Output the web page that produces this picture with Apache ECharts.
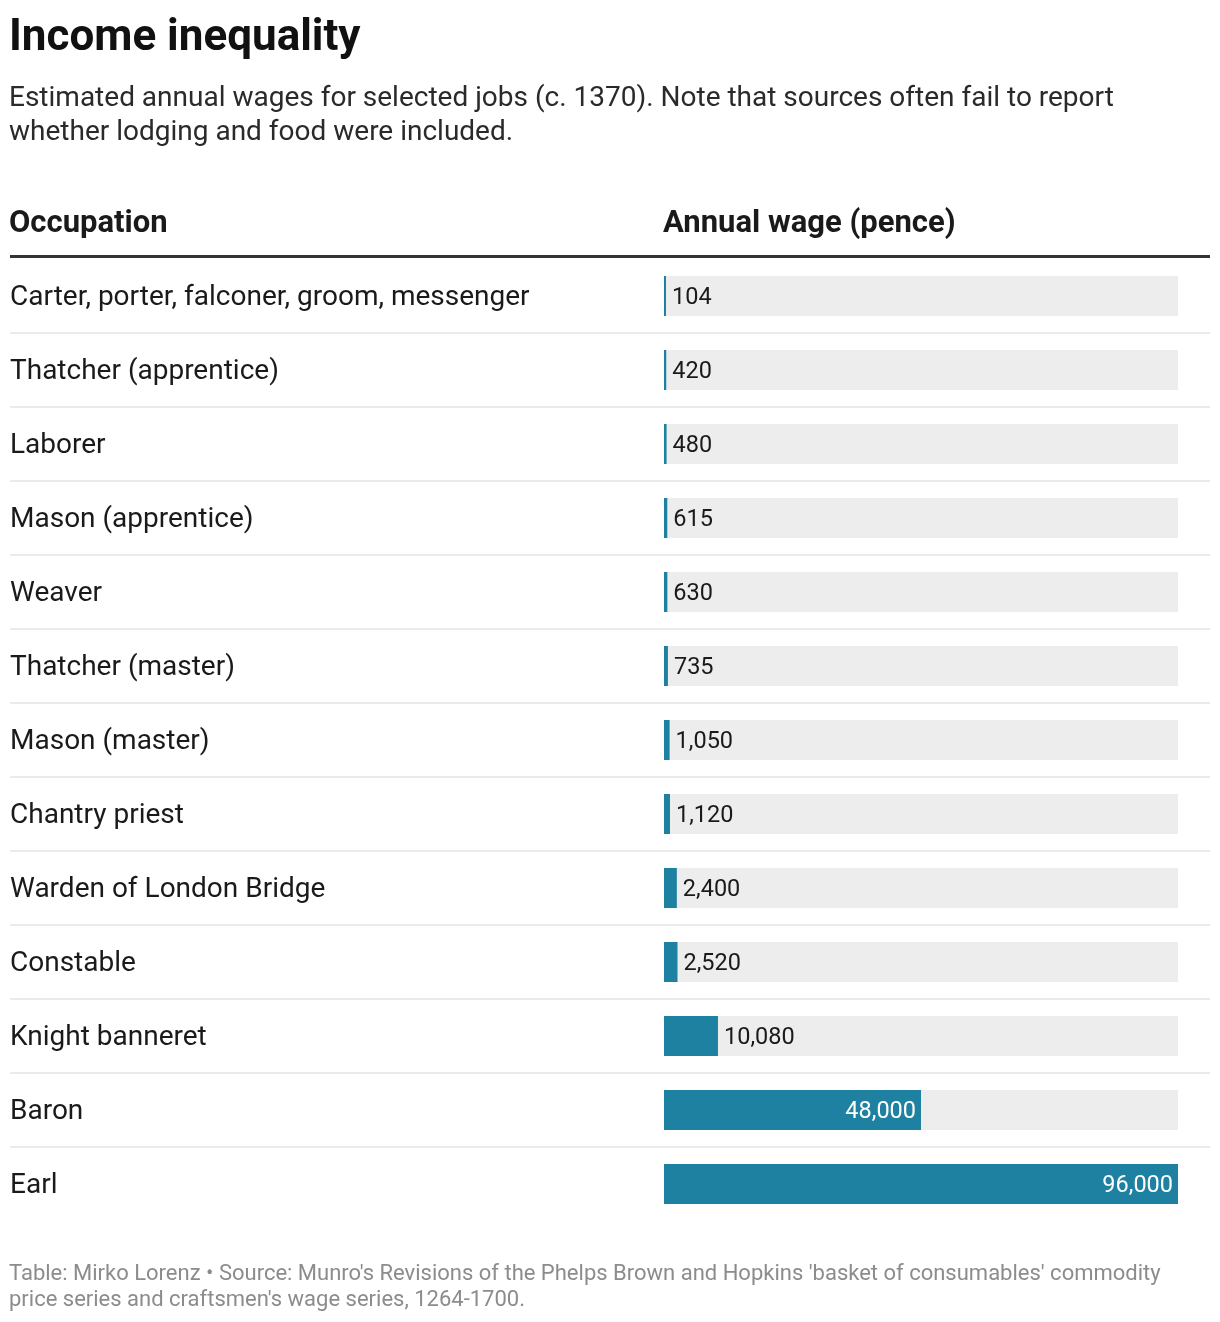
<!DOCTYPE html>
<html>
<head>
<meta charset="utf-8">
<script src="https://cdn.jsdelivr.net/npm/echarts@6/dist/echarts.min.js"></script>
<style>
html,body{margin:0;padding:0;background:#fff;}
#chart{width:1220px;height:1322px;}
</style>
</head>
<body>
<div id="chart"></div>
<script>
const titleText = "Income inequality";
const subtitleText = "Estimated annual wages for selected jobs (c. 1370). Note that sources often fail to report\nwhether lodging and food were included.";
const colHeaders = ["Occupation", "Annual wage (pence)"];
const footerText = "Table: Mirko Lorenz \u2022 Source: Munro's Revisions of the Phelps Brown and Hopkins 'basket of consumables' commodity\nprice series and craftsmen's wage series, 1264-1700.";

const occupations = [
  "Carter, porter, falconer, groom, messenger",
  "Thatcher (apprentice)",
  "Laborer",
  "Mason (apprentice)",
  "Weaver",
  "Thatcher (master)",
  "Mason (master)",
  "Chantry priest",
  "Warden of London Bridge",
  "Constable",
  "Knight banneret",
  "Baron",
  "Earl"
];
const wages = [104, 420, 480, 615, 630, 735, 1050, 1120, 2400, 2520, 10080, 48000, 96000];
const wageMax = 96000;

const FONT = "Roboto, 'Noto Sans', sans-serif";
const fmt = v => v.toLocaleString('en-US');

const gridTop = 259, gridBottom = 1322 - (259 + 74 * 13);

const barData = wages.map(v => {
  const inside = v / wageMax > 0.3;
  return {
    value: v,
    label: inside
      ? { position: 'insideRight', color: '#ffffff', distance: 5 }
      : { position: 'right', color: '#1a1a1a', distance: 6 }
  };
});

const chart = echarts.init(document.getElementById('chart'), null, { renderer: 'canvas' });
chart.setOption({
  backgroundColor: '#ffffff',
  animation: false,
  textStyle: { fontFamily: FONT },
  title: [
    { text: titleText, left: 9, top: 17, padding: 0, textStyle: { fontFamily: FONT, fontSize: 44, lineHeight: 44, fontWeight: 'bold', color: '#111' } },
    { text: subtitleText, left: 9, top: 82, padding: 0, textStyle: { fontFamily: FONT, fontSize: 28, fontWeight: 'normal', color: '#2a2a2a', lineHeight: 34 } },
    { text: colHeaders[0], left: 9, top: 209, padding: 0, textStyle: { fontFamily: FONT, fontSize: 31, lineHeight: 30, fontWeight: 'bold', color: '#1a1a1a' } },
    { text: colHeaders[1], left: 663, top: 209, padding: 0, textStyle: { fontFamily: FONT, fontSize: 31, lineHeight: 30, fontWeight: 'bold', color: '#1a1a1a' } },
    { text: footerText, left: 9, top: 1261, padding: 0, textStyle: { fontFamily: FONT, fontSize: 22, fontWeight: 'normal', color: '#8c8c8c', lineHeight: 26 } }
  ],
  graphic: [
    { type: 'rect', shape: { x: 10, y: 255, width: 1200, height: 3 }, style: { fill: '#333333' }, silent: true }
  ],
  grid: [
    { left: 664, right: 42, top: gridTop, bottom: gridBottom },
    { left: 10, right: 10, top: gridTop, bottom: gridBottom }
  ],
  xAxis: [
    { type: 'value', gridIndex: 0, min: 0, max: wageMax, show: false },
    { type: 'value', gridIndex: 1, min: 0, max: 1, show: false }
  ],
  yAxis: [
    { type: 'category', gridIndex: 0, data: occupations, inverse: true, show: false },
    {
      type: 'category', gridIndex: 1, data: occupations, inverse: true,
      axisLine: { show: false }, axisTick: { show: false },
      axisLabel: { inside: true, margin: 0, fontFamily: FONT, fontSize: 28, color: '#1a1a1a', align: 'left', verticalAlign: 'top', lineHeight: 4 },
      splitLine: { show: true, showMinLine: false, showMaxLine: false, lineStyle: { color: '#ebebeb', width: 2 } }
    }
  ],
  series: [
    {
      type: 'bar',
      xAxisIndex: 0, yAxisIndex: 0,
      data: barData,
      barWidth: 40,
      barMinHeight: 2,
      showBackground: true,
      backgroundStyle: { color: '#ededed' },
      itemStyle: { color: '#1e81a1' },
      label: {
        show: true,
        fontFamily: FONT,
        fontSize: 23.5,
        offset: [0, 2],
        formatter: p => fmt(p.value)
      }
    }
  ]
});
</script>
</body>
</html>
